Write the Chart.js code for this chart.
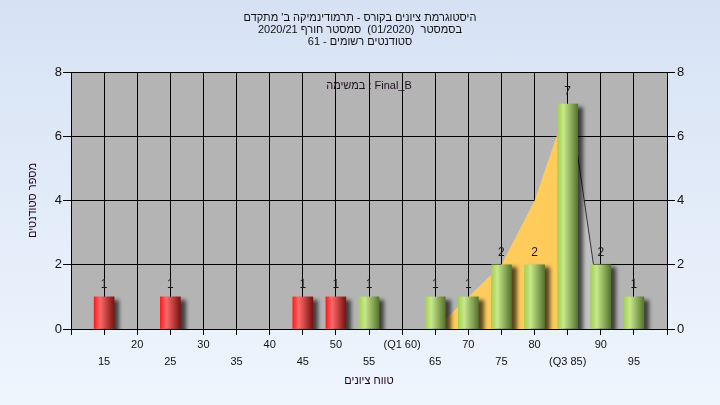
<!DOCTYPE html>
<html>
<head>
<meta charset="utf-8">
<script src="https://cdn.jsdelivr.net/npm/chart.js@4.4.1/dist/chart.umd.min.js"></script>
<style>
  html, body { margin: 0; padding: 0; }
  body { width: 720px; height: 405px; overflow: hidden; background: linear-gradient(#d6e2f4, #eef5fd); }
  canvas { display: block; }
</style>
</head>
<body>
<canvas id="chart" width="720" height="405"></canvas>
<script>
// chart values
const titleLines = [
  "היסטוגרמת ציונים בקורס - תרמודינמיקה ב' מתקדם",
  "בסמסטר  (01/2020)  סמסטר חורף 2020/21",
  "סטודנטים רשומים - 61"
];
const taskCaption = "במשימה : Final_B";
const grades = [15, 25, 45, 50, 55, 65, 70, 75, 80, 85, 90, 95];
const counts = [1, 1, 1, 1, 1, 1, 1, 2, 2, 7, 2, 1];
const passMark = 55;
// yellow band (Q1..Q3 area)
const bandX = [65, 70, 75, 80, 85];
const bandY = [0, 1, 2, 4, 7];
// grey tail right of the peak
const tailX = [85.4, 88.9];
const tailY = [7, 2];
const tickLabels = ['15', '20', '25', '30', '35', '40', '45', '50', '55', '(Q1 60)',
                    '65', '70', '75', '80', '(Q3 85)', '90', '95'];

Chart.defaults.font.family = '"Liberation Sans", Arial, sans-serif';

// cylinder look for each bar
function barFill(c) {
  const chart = c.chart;
  const raw = c.raw;
  if (!chart.chartArea || !raw) return '#999';
  const cx = chart.scales.x.getPixelForValue(raw.x);
  const g = chart.ctx.createLinearGradient(cx - 10, 0, cx + 10, 0);
  if (raw.x >= passMark) {
    g.addColorStop(0, '#a4d150');
    g.addColorStop(0.3, '#c8e88c');
    g.addColorStop(1, '#56752e');
  } else {
    g.addColorStop(0, '#ff1c1c');
    g.addColorStop(0.3, '#ff6a6a');
    g.addColorStop(1, '#7a1212');
  }
  return g;
}

const plotBg = {
  id: 'plotBg',
  beforeDraw(chart) {
    const { ctx, chartArea: a } = chart;
    ctx.save();
    ctx.fillStyle = '#b4b4b4';
    ctx.fillRect(a.left, a.top, a.right - a.left, a.bottom - a.top);
    ctx.restore();
  }
};

const barShadow = {
  id: 'barShadow',
  beforeDatasetDraw(chart, args) {
    if (args.index !== 0) return;
    const ctx = chart.ctx;
    ctx.save();
    ctx.shadowColor = 'rgba(0,0,0,0.65)';
    ctx.shadowBlur = 4;
    ctx.shadowOffsetX = 5;
    ctx.shadowOffsetY = 3;
  },
  afterDatasetDraw(chart, args) {
    if (args.index === 0) chart.ctx.restore();
  }
};

const valueLabels = {
  id: 'valueLabels',
  afterDatasetsDraw(chart) {
    const ctx = chart.ctx;
    const a = chart.chartArea;
    ctx.save();
    ctx.font = '12px "Liberation Sans", Arial, sans-serif';
    ctx.fillStyle = '#1a1a1a';
    ctx.textAlign = 'center';
    ctx.textBaseline = 'middle';
    chart.getDatasetMeta(0).data.forEach((bar, i) => {
      ctx.fillText(String(counts[i]), bar.x, bar.y - 12);
    });
    ctx.font = '11px "Liberation Sans", Arial, sans-serif';
    ctx.fillStyle = '#201020';
    ctx.fillText(taskCaption, (a.left + a.right) / 2, a.top + 14);
    ctx.restore();
  }
};

new Chart(document.getElementById('chart'), {
  type: 'bar',
  data: {
    datasets: [
      {
        type: 'bar',
        data: grades.map((g, i) => ({ x: g, y: counts[i] })),
        backgroundColor: barFill,
        borderWidth: 0,
        barThickness: 20,
        order: 0
      },
      {
        type: 'line',
        data: bandX.map((x, i) => ({ x: x, y: bandY[i] })),
        fill: 'origin',
        backgroundColor: '#ffcc5c',
        borderWidth: 0,
        pointRadius: 0,
        tension: 0,
        order: 2
      },
      {
        type: 'line',
        data: tailX.map((x, i) => ({ x: x, y: tailY[i] })),
        fill: 'origin',
        backgroundColor: '#c2c2c2',
        borderColor: '#333333',
        borderWidth: 1,
        pointRadius: 0,
        tension: 0,
        order: 1
      }
    ]
  },
  options: {
    responsive: false,
    animation: false,
    devicePixelRatio: 1,
    layout: { padding: 0 },
    plugins: {
      legend: { display: false },
      tooltip: { enabled: false },
      title: {
        display: true,
        text: titleLines,
        color: '#111111',
        font: { size: 11, weight: 'normal', lineHeight: '12px' },
        padding: { top: 12, bottom: 24 }
      }
    },
    scales: {
      x: {
        type: 'linear',
        position: 'bottom',
        min: 10,
        max: 100,
        offset: false,
        afterFit: s => { s.height = 76; },
        grid: { color: '#000', tickColor: '#000', tickLength: 6, offset: false },
        border: { color: '#000' },
        ticks: {
          stepSize: 5,
          autoSkip: false,
          maxRotation: 0,
          padding: 1,
          color: '#111111',
          font: { size: 11, lineHeight: '17px' },
          callback: v => {
            const i = Math.round((v - 15) / 5);
            if (i < 0 || i >= tickLabels.length) return '';
            return i % 2 === 0 ? ['', tickLabels[i]] : tickLabels[i];
          }
        },
        title: {
          display: true,
          text: 'טווח ציונים',
          color: '#200020',
          font: { size: 11, lineHeight: '14px' },
          padding: { top: 0, bottom: 17 }
        }
      },
      y: {
        position: 'left',
        min: 0,
        max: 8,
        afterFit: s => { s.width = 71; },
        grid: { color: '#000', tickColor: '#000', tickLength: 8 },
        border: { color: '#000' },
        ticks: { stepSize: 2, padding: 1, color: '#111111', font: { size: 13 } },
        title: {
          display: true,
          text: 'מספר סטודנטים',
          color: '#200020',
          font: { size: 11, lineHeight: '14px' },
          padding: { top: 26, bottom: 0 }
        }
      },
      y2: {
        position: 'right',
        min: 0,
        max: 8,
        afterFit: s => { s.width = 53; },
        grid: { drawOnChartArea: false, color: '#000', tickColor: '#000', tickLength: 8 },
        border: { color: '#000' },
        ticks: { stepSize: 2, padding: 2, color: '#111111', font: { size: 13 } }
      }
    }
  },
  plugins: [plotBg, barShadow, valueLabels]
});
</script>
</body>
</html>
